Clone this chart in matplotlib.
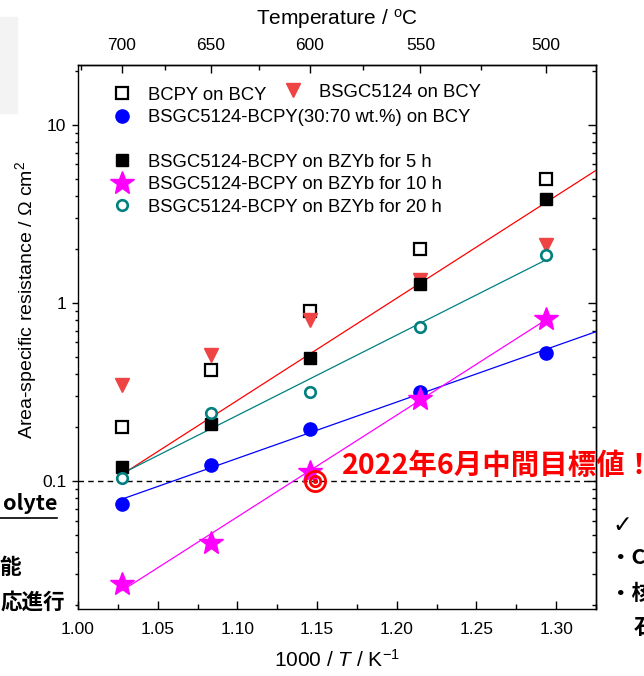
import numpy as np
import matplotlib
matplotlib.use('Agg')
import matplotlib.pyplot as plt
from matplotlib.patches import Rectangle
from matplotlib.lines import Line2D
from matplotlib.ticker import NullFormatter

plt.rcParams['font.family'] = ['Liberation Sans', 'Noto Sans CJK JP', 'DejaVu Sans']
plt.rcParams['mathtext.fontset'] = 'custom'
plt.rcParams['mathtext.rm'] = 'Liberation Sans'
plt.rcParams['mathtext.it'] = 'Liberation Sans:italic'
plt.rcParams['axes.linewidth'] = 1.0

# 測定温度 (°C) と ASR (Ω cm2)
temp_c = np.array([700, 650, 600, 550, 500])
bcpy_bcy = [0.201, 0.42, 0.90, 2.01, 4.95]
bsgc_bcy = [0.346, 0.51, 0.80, 1.35, 2.12]
comp_bcy = [0.0743, 0.123, 0.196, 0.316, 0.524]
bzyb_5h = [0.12, 0.209, 0.49, 1.28, 3.84]
bzyb_10h = [0.0265, 0.0450, 0.113, 0.290, 0.815]
bzyb_20h = [0.104, 0.242, 0.316, 0.733, 1.86]

target_asr = 0.1
target_x = 1.149

top_ticks_c = [700, 650, 600, 550, 500]
top_minor_c = [725, 675, 625, 575, 525]

xlim = (1.00, 1.325)
ylim = (0.0191, 21.7)

inv_t = 1000 / (temp_c + 273.15)


def to_inv(tc):
    return 1000 / (np.asarray(tc) + 273.15)


def fit_line(y, x_end):
    k, b = np.polyfit(inv_t, np.log10(y), 1)
    xx = np.array([inv_t[0], x_end])
    return xx, 10 ** (k * xx + b)


fig = plt.figure(figsize=(6.44, 6.76), dpi=100)
ax = fig.add_axes([0.1211, 0.0991, 0.8043, 0.8047])
ax.set_yscale('log')
ax.set_xlim(*xlim)
ax.set_ylim(*ylim)

# フィット直線
for y, c, x_end in [(bzyb_5h, '#ff0000', xlim[1]), (bzyb_20h, '#008080', inv_t[-1]),
                    (comp_bcy, '#0000ff', xlim[1]), (bzyb_10h, '#ff00ff', inv_t[-1])]:
    xx, yy = fit_line(y, x_end)
    ax.plot(xx, yy, color=c, lw=0.9, zorder=2)

ax.axhline(target_asr, color='black', lw=1.0, ls=(0, (4, 3)), zorder=1)

# データ点
h1, = ax.plot(inv_t, bcpy_bcy, 's', ms=8, mfc='white', mec='black', mew=1.6, ls='none', zorder=3)
h2, = ax.plot(inv_t, bsgc_bcy, 'v', ms=10.5, color='#ee4444', ls='none', zorder=3)
h3, = ax.plot(inv_t, comp_bcy, 'o', ms=9.5, color='#0000ff', ls='none', zorder=3)
h4, = ax.plot(inv_t, bzyb_5h, 's', ms=9.3, color='black', ls='none', zorder=4)
h5, = ax.plot(inv_t, bzyb_10h, '*', ms=18, color='#ff00ff', ls='none', zorder=5)
h6, = ax.plot(inv_t, bzyb_20h, 'o', ms=7.6, mfc='white', mec='#008080', mew=1.9, ls='none', zorder=5)

# 目標値マーク ◎
ax.plot([target_x], [target_asr], 'o', ms=14.5, mfc='none', mec='red', mew=2.0, zorder=6)
ax.plot([target_x], [target_asr], 'o', ms=7.5, mfc='none', mec='red', mew=2.0, zorder=6)
ax.plot([target_x], [target_asr], 'o', ms=2.5, color='red', zorder=6)
ax.text(1.1657, 0.121, '2022年6月中間目標値！', color='red', fontsize=20.5, fontweight='bold',
        family=['Noto Sans CJK JP', 'DejaVu Sans'], va='center', ha='left', zorder=7)

# 凡例
leg_kw = dict(frameon=False, fontsize=13.3, handlelength=1.0, handletextpad=0.9,
              borderpad=0, borderaxespad=0, labelspacing=0.3, loc='upper left')
leg1 = ax.legend([h1, h3], ['BCPY on BCY', 'BSGC5124-BCPY(30:70 wt.%) on BCY'],
                 bbox_to_anchor=(0.067, 0.960), **leg_kw)
ax.add_artist(leg1)
leg2 = ax.legend([h2], ['BSGC5124 on BCY'], bbox_to_anchor=(0.397, 0.966), **leg_kw)
ax.add_artist(leg2)
ax.legend([h4, h5, h6], ['BSGC5124-BCPY on BZYb for 5 h', 'BSGC5124-BCPY on BZYb for 10 h',
                         'BSGC5124-BCPY on BZYb for 20 h'],
          bbox_to_anchor=(0.067, 0.837), **leg_kw)

# 軸
ax.set_xticks(np.arange(1.00, 1.301, 0.05))
ax.set_xticks(np.arange(1.025, 1.326, 0.05), minor=True)
ax.set_yticks([0.1, 1, 10], ['0.1', '1', '10'])
ax.yaxis.set_minor_formatter(NullFormatter())
ax.tick_params(axis='x', which='both', direction='in', top=False, labelsize=12.5, pad=9)
ax.tick_params(axis='x', which='major', length=5.5, width=1)
ax.tick_params(axis='x', which='minor', length=3.5, width=1)
ax.tick_params(axis='y', which='both', direction='out', right=False, labelsize=12.5, pad=4)
ax.tick_params(axis='y', which='major', length=4.5, width=1)
ax.tick_params(axis='y', which='minor', length=2.5, width=1)
ax.set_xticklabels(['1.00', '1.05', '1.10', '1.15', '1.20', '1.25', '1.30'])
ax.set_xlabel('1000 / $T$ / K$^{\\mathrm{-1}}$', fontsize=15, labelpad=9)
ax.set_ylabel('Area-specific resistance / Ω cm$^2$', fontsize=14)
ax.yaxis.set_label_coords(-0.076, 0.568)

top = ax.secondary_xaxis('top')
top.set_xticks(to_inv(top_ticks_c), [str(t) for t in top_ticks_c])
top.set_xticks(to_inv(top_minor_c), minor=True)
top.tick_params(which='both', direction='in', labelsize=12.5, pad=9)
top.tick_params(which='major', length=5.5, width=1)
top.tick_params(which='minor', length=3.5, width=1)
top.set_xlabel('Temperature / $^{\\mathrm{o}}$C', fontsize=15, labelpad=9)

right = ax.secondary_yaxis('right')
right.tick_params(which='both', direction='in', labelright=False)
right.tick_params(which='major', length=5.5, width=1)
right.tick_params(which='minor', length=3, width=1)
right.yaxis.set_minor_formatter(NullFormatter())

# スライドの周辺要素
fig.add_artist(Rectangle((0, 1 - 113 / 676), 17 / 644, 96 / 676, transform=fig.transFigure,
                         color='#f3f3f3', zorder=0))
jp = ['Noto Sans CJK JP', 'DejaVu Sans']
fig.text(57 / 644, 1 - 503 / 676, 'olyte', ha='right', va='center', fontsize=15.5,
         fontweight='bold', family=jp)
fig.add_artist(Line2D([0, 57 / 644], [1 - 518 / 676, 1 - 518 / 676], color='black', lw=1.2,
                      transform=fig.transFigure))
fig.text(21 / 644, 1 - 568 / 676, '能', ha='right', va='center', fontsize=15.5,
         fontweight='bold', family=jp)
fig.text(65 / 644, 1 - 602 / 676, '応進行', ha='right', va='center', fontsize=15.5,
         fontweight='bold', family=jp)
fig.text(612 / 644, 1 - 525 / 676, '✓', ha='left', va='center', fontsize=17,
         fontweight='bold', family=['DejaVu Sans'])
fig.text(610 / 644, 1 - 558 / 676, '・C', ha='left', va='center', fontsize=15.5,
         fontweight='bold', family=jp)
fig.text(610 / 644, 1 - 593 / 676, '・核', ha='left', va='center', fontsize=15.5,
         fontweight='bold', family=jp)
fig.text(634 / 644, 1 - 628 / 676, '石', ha='left', va='center', fontsize=15.5,
         fontweight='bold', family=jp)

fig.savefig('out.png', dpi=100)
